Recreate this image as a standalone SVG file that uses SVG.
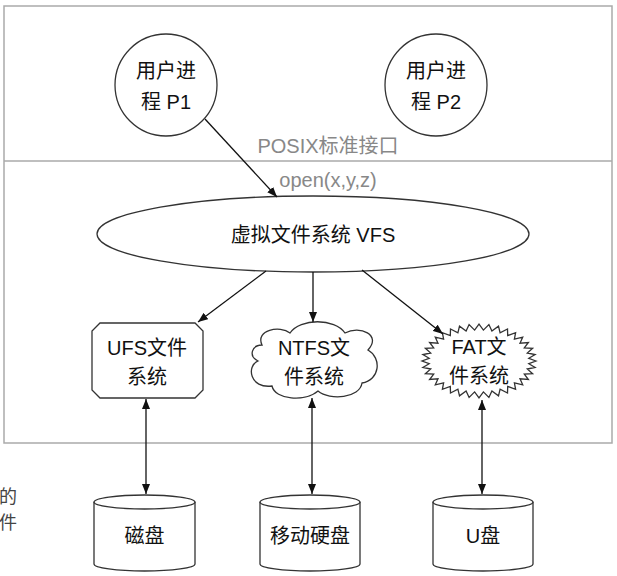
<svg xmlns="http://www.w3.org/2000/svg" width="617" height="576" viewBox="0 0 617 576">
<defs>
<marker id="arr" viewBox="0 0 10 8" refX="10" refY="4" markerWidth="10" markerHeight="8" markerUnits="userSpaceOnUse" orient="auto-start-reverse">
<path d="M0,0 L10,4 L0,8 Z" fill="#111"/>
</marker>
</defs>
<style>
.frame{fill:none;stroke:#aaa;stroke-width:1.5}
.shape{fill:#fff;stroke:#333;stroke-width:1.3}
.conn{fill:none;stroke:#111;stroke-width:1.3}
text{font-family:"Liberation Sans","Noto Sans CJK SC",sans-serif;font-size:20px;fill:#111;text-anchor:middle}
.gray{fill:#888}
.side{fill:#444;font-size:18px;text-anchor:end}
</style>
<rect width="617" height="576" fill="#fff"/>
<g id="frame">
<rect class="frame" x="4" y="6" width="608" height="437"/>
<line class="frame" x1="4" y1="161" x2="612" y2="161"/>
</g>
<g id="side-text">
<text class="side" x="17" y="503">的</text>
<text class="side" x="17" y="529">件</text>
</g>
<g id="p1">
<circle class="shape" cx="166" cy="85" r="51"/>
<text x="166" y="78">用户进</text>
<text x="166" y="109">程 P1</text>
</g>
<g id="p2">
<circle class="shape" cx="436" cy="85" r="51"/>
<text x="436" y="78">用户进</text>
<text x="436" y="109">程 P2</text>
</g>
<g id="posix">
<text class="gray" x="328" y="153">POSIX标准接口</text>
<text class="gray" x="328" y="187">open(x,y,z)</text>
</g>
<g id="vfs">
<ellipse class="shape" cx="313" cy="234" rx="216" ry="38"/>
<text x="313" y="242">虚拟文件系统 VFS</text>
</g>
<g id="ufs">
<polygon class="shape" points="100,323 195,323 203,331 203,390 195,398 100,398 92,390 92,331"/>
<text x="147" y="355">UFS文件</text>
<text x="147" y="384">系统</text>
</g>
<g id="ntfs">
<path class="shape" d="M262,345 C255,330 280,325 290,333 C300,318 335,318 345,333 C360,325 382,335 368,350 C382,358 380,380 362,383 C360,398 330,401 318,391 C305,402 275,400 272,386 C250,389 246,366 258,361 C248,356 252,345 262,345 Z"/>
<text x="314" y="355">NTFS文</text>
<text x="314" y="384">件系统</text>
</g>
<g id="fat">
<polygon class="shape" transform="translate(0,-8)" points="536.0,369.0 528.8,366.3 535.1,362.6 527.3,361.0 532.6,356.3 524.3,355.9 528.4,350.5 520.0,351.2 522.7,345.2 514.4,347.1 515.6,340.7 507.7,343.6 507.5,337.0 500.1,340.9 498.5,334.2 491.9,339.1 488.9,332.6 483.4,338.1 479.0,332.0 474.6,338.1 469.1,332.6 466.1,339.1 459.5,334.2 457.9,340.9 450.5,337.0 450.3,343.6 442.4,340.7 443.6,347.1 435.3,345.2 438.0,351.2 429.6,350.5 433.7,355.9 425.4,356.3 430.7,361.0 422.9,362.6 429.2,366.3 422.0,369.0 429.2,371.7 422.9,375.4 430.7,377.0 425.4,381.7 433.7,382.1 429.6,387.5 438.0,386.8 435.3,392.8 443.6,390.9 442.4,397.3 450.3,394.4 450.5,401.0 457.9,397.1 459.5,403.8 466.1,398.9 469.1,405.4 474.6,399.9 479.0,406.0 483.4,399.9 488.9,405.4 491.9,398.9 498.5,403.8 500.1,397.1 507.5,401.0 507.7,394.4 515.6,397.3 514.4,390.9 522.7,392.8 520.0,386.8 528.4,387.5 524.3,382.1 532.6,381.7 527.3,377.0 535.1,375.4 528.8,371.7"/>
<text x="479" y="354">FAT文</text>
<text x="479" y="383">件系统</text>
</g>
<g id="disk">
<path class="shape" d="M94,502 A50.5,7 0 0 1 195,502 L195,564 A50.5,7 0 0 1 94,564 Z"/>
<path class="shape" d="M94,502 A50.5,7 0 0 0 195,502"/>
<text x="144.5" y="543">磁盘</text>
</g>
<g id="mobile-disk">
<path class="shape" d="M260,502 A50,7 0 0 1 360,502 L360,564 A50,7 0 0 1 260,564 Z"/>
<path class="shape" d="M260,502 A50,7 0 0 0 360,502"/>
<text x="310" y="543">移动硬盘</text>
</g>
<g id="udisk">
<path class="shape" d="M433,502 A50,7 0 0 1 533,502 L533,564 A50,7 0 0 1 433,564 Z"/>
<path class="shape" d="M433,502 A50,7 0 0 0 533,502"/>
<text x="483" y="543">U盘</text>
</g>
<g id="connectors">
<line class="conn" x1="205" y1="119" x2="277" y2="197" marker-end="url(#arr)"/>
<line class="conn" x1="266" y1="271" x2="198" y2="322" marker-end="url(#arr)"/>
<line class="conn" x1="313" y1="272" x2="313" y2="322" marker-end="url(#arr)"/>
<line class="conn" x1="362" y1="270" x2="443" y2="334" marker-end="url(#arr)"/>
<line class="conn" x1="146" y1="399" x2="146" y2="494" marker-start="url(#arr)" marker-end="url(#arr)"/>
<line class="conn" x1="312" y1="398" x2="312" y2="494" marker-start="url(#arr)" marker-end="url(#arr)"/>
<line class="conn" x1="482" y1="400" x2="482" y2="494" marker-start="url(#arr)" marker-end="url(#arr)"/>
</g>
</svg>
